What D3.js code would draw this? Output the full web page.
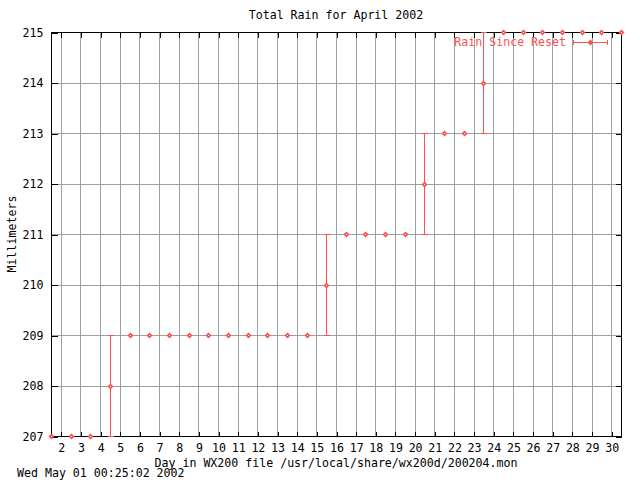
<!DOCTYPE html>
<html><head><meta charset="utf-8">
<script src="https://cdn.jsdelivr.net/npm/d3@7"></script>
<style>body{margin:0;background:#fff}svg{display:block}text{font-family:"DejaVu Sans Mono",monospace;font-size:11.6px}</style>
</head><body>
<script>
const days = [1.5,2.5,3.5,4.5,5.5,6.5,7.5,8.5,9.5,10.5,11.5,12.5,13.5,14.5,15.5,16.5,17.5,18.5,19.5,20.5,21.5,22.5,23.5,24.5,25.5,26.5,27.5,28.5,29.5,30.5];
const rain = [207,207,207,208,209,209,209,209,209,209,209,209,209,209,210,211,211,211,211,212,213,213,214,215,215,215,215,215,215,215];
const rainLow = [207,207,207,207,209,209,209,209,209,209,209,209,209,209,209,211,211,211,211,211,213,213,213,215,215,215,215,215,215,215];
const rainHigh = [207,207,207,209,209,209,209,209,209,209,209,209,209,209,211,211,211,211,211,213,213,213,215,215,215,215,215,215,215,215];
const xTicks = [2,3,4,5,6,7,8,9,10,11,12,13,14,15,16,17,18,19,20,21,22,23,24,25,26,27,28,29,30];
const yTicks = [207,208,209,210,211,212,213,214,215];
const titleText = "Total Rain for April 2002";
const xLabel = "Day in WX200 file /usr/local/share/wx200d/200204.mon";
const yLabel = "Millimeters";
const stamp = "Wed May 01 00:25:02 2002";
const legendText = "Rain Since Reset";

const W=640,H=480,L=51,R=621,T=32,B=436;
const red="#ff5050", grid="#a0a0a0";
const svg=d3.select("body").append("svg").attr("width",W).attr("height",H);
const x=d3.scaleLinear().domain([1.5,30.5]).range([L,R]);
const y=d3.scaleLinear().domain([207,215]).range([B,T]);
const px=v=>Math.round(v)+0.5;

const g=svg.append("g").attr("shape-rendering","crispEdges");
g.selectAll(".vg").data(xTicks).join("line").attr("x1",d=>px(x(d))).attr("x2",d=>px(x(d))).attr("y1",T).attr("y2",B).attr("stroke",grid);
g.selectAll(".hg").data(yTicks).join("line").attr("y1",d=>px(y(d))).attr("y2",d=>px(y(d))).attr("x1",L).attr("x2",R).attr("stroke",grid);

function style(a){a.select(".domain").remove();a.selectAll("line").attr("stroke","#000");a.selectAll("text").attr("fill","#000").style("font-family",'"DejaVu Sans Mono",monospace').style("font-size","11.6px");}
svg.append("g").attr("transform",`translate(0.5,${px(B)})`).call(d3.axisBottom(x).tickValues(xTicks).tickSize(-5).tickPadding(7).tickFormat(d3.format("d"))).call(style).attr("shape-rendering","crispEdges");
svg.append("g").attr("transform",`translate(0.5,${px(T)})`).call(d3.axisTop(x).tickValues(xTicks).tickSize(-5).tickFormat("")).call(style).attr("shape-rendering","crispEdges");
svg.append("g").attr("transform",`translate(${px(L)},0.5)`).call(d3.axisLeft(y).tickValues(yTicks).tickSize(-6).tickPadding(8).tickFormat(d3.format("d"))).call(style).attr("shape-rendering","crispEdges");
svg.append("g").attr("transform",`translate(${px(R)},0.5)`).call(d3.axisRight(y).tickValues(yTicks).tickSize(-6).tickFormat("")).call(style).attr("shape-rendering","crispEdges");
g.append("rect").attr("x",px(L)).attr("y",px(T)).attr("width",R-L).attr("height",B-T).attr("fill","none").attr("stroke","#000");

const data=days.map((d,i)=>({d,v:rain[i],lo:rainLow[i],hi:rainHigh[i]}));
const eb=data.filter(p=>p.hi>p.lo);
const eg=svg.append("g").attr("stroke",red).attr("shape-rendering","crispEdges");
eg.selectAll(".bar").data(eb).join("line").attr("x1",p=>px(x(p.d))).attr("x2",p=>px(x(p.d))).attr("y1",p=>px(y(p.lo))).attr("y2",p=>px(y(p.hi)));
eg.selectAll(".capl").data(eb).join("line").attr("x1",p=>px(x(p.d))-3).attr("x2",p=>px(x(p.d))+3).attr("y1",p=>px(y(p.lo))).attr("y2",p=>px(y(p.lo)));
eg.selectAll(".caph").data(eb).join("line").attr("x1",p=>px(x(p.d))-3).attr("x2",p=>px(x(p.d))+3).attr("y1",p=>px(y(p.hi))).attr("y2",p=>px(y(p.hi)));
const diamond=(cx,cy)=>`M${cx},${cy-3}L${cx+3},${cy}L${cx},${cy+3}L${cx-3},${cy}Z`;
const mg=svg.append("g");
function marker(cx,cy){
  mg.append("path").attr("d",diamond(cx,cy)).attr("fill",red);
  mg.append("rect").attr("x",cx-0.5).attr("y",cy-0.5).attr("width",1).attr("height",1).attr("fill","#fff").attr("shape-rendering","crispEdges");
}
data.forEach(p=>marker(px(x(p.d)),px(y(p.v))));

svg.append("text").attr("x",566).attr("y",46).attr("text-anchor","end").attr("fill",red).text(legendText);
const lg=svg.append("g").attr("stroke",red).attr("shape-rendering","crispEdges");
lg.append("line").attr("x1",573).attr("x2",607).attr("y1",42.5).attr("y2",42.5);
lg.append("line").attr("x1",573.5).attr("x2",573.5).attr("y1",40).attr("y2",45);
lg.append("line").attr("x1",607.5).attr("x2",607.5).attr("y1",40).attr("y2",45);
marker(590.5,42.5);

svg.append("text").attr("x",(L+R)/2).attr("y",19).attr("text-anchor","middle").text(titleText);
svg.append("text").attr("x",(L+R)/2).attr("y",467).attr("text-anchor","middle").text(xLabel);
svg.append("text").attr("x",17).attr("y",477).text(stamp);
svg.append("text").attr("transform",`translate(16,${(T+B)/2}) rotate(-90)`).attr("text-anchor","middle").text(yLabel);
</script>
</body></html>
